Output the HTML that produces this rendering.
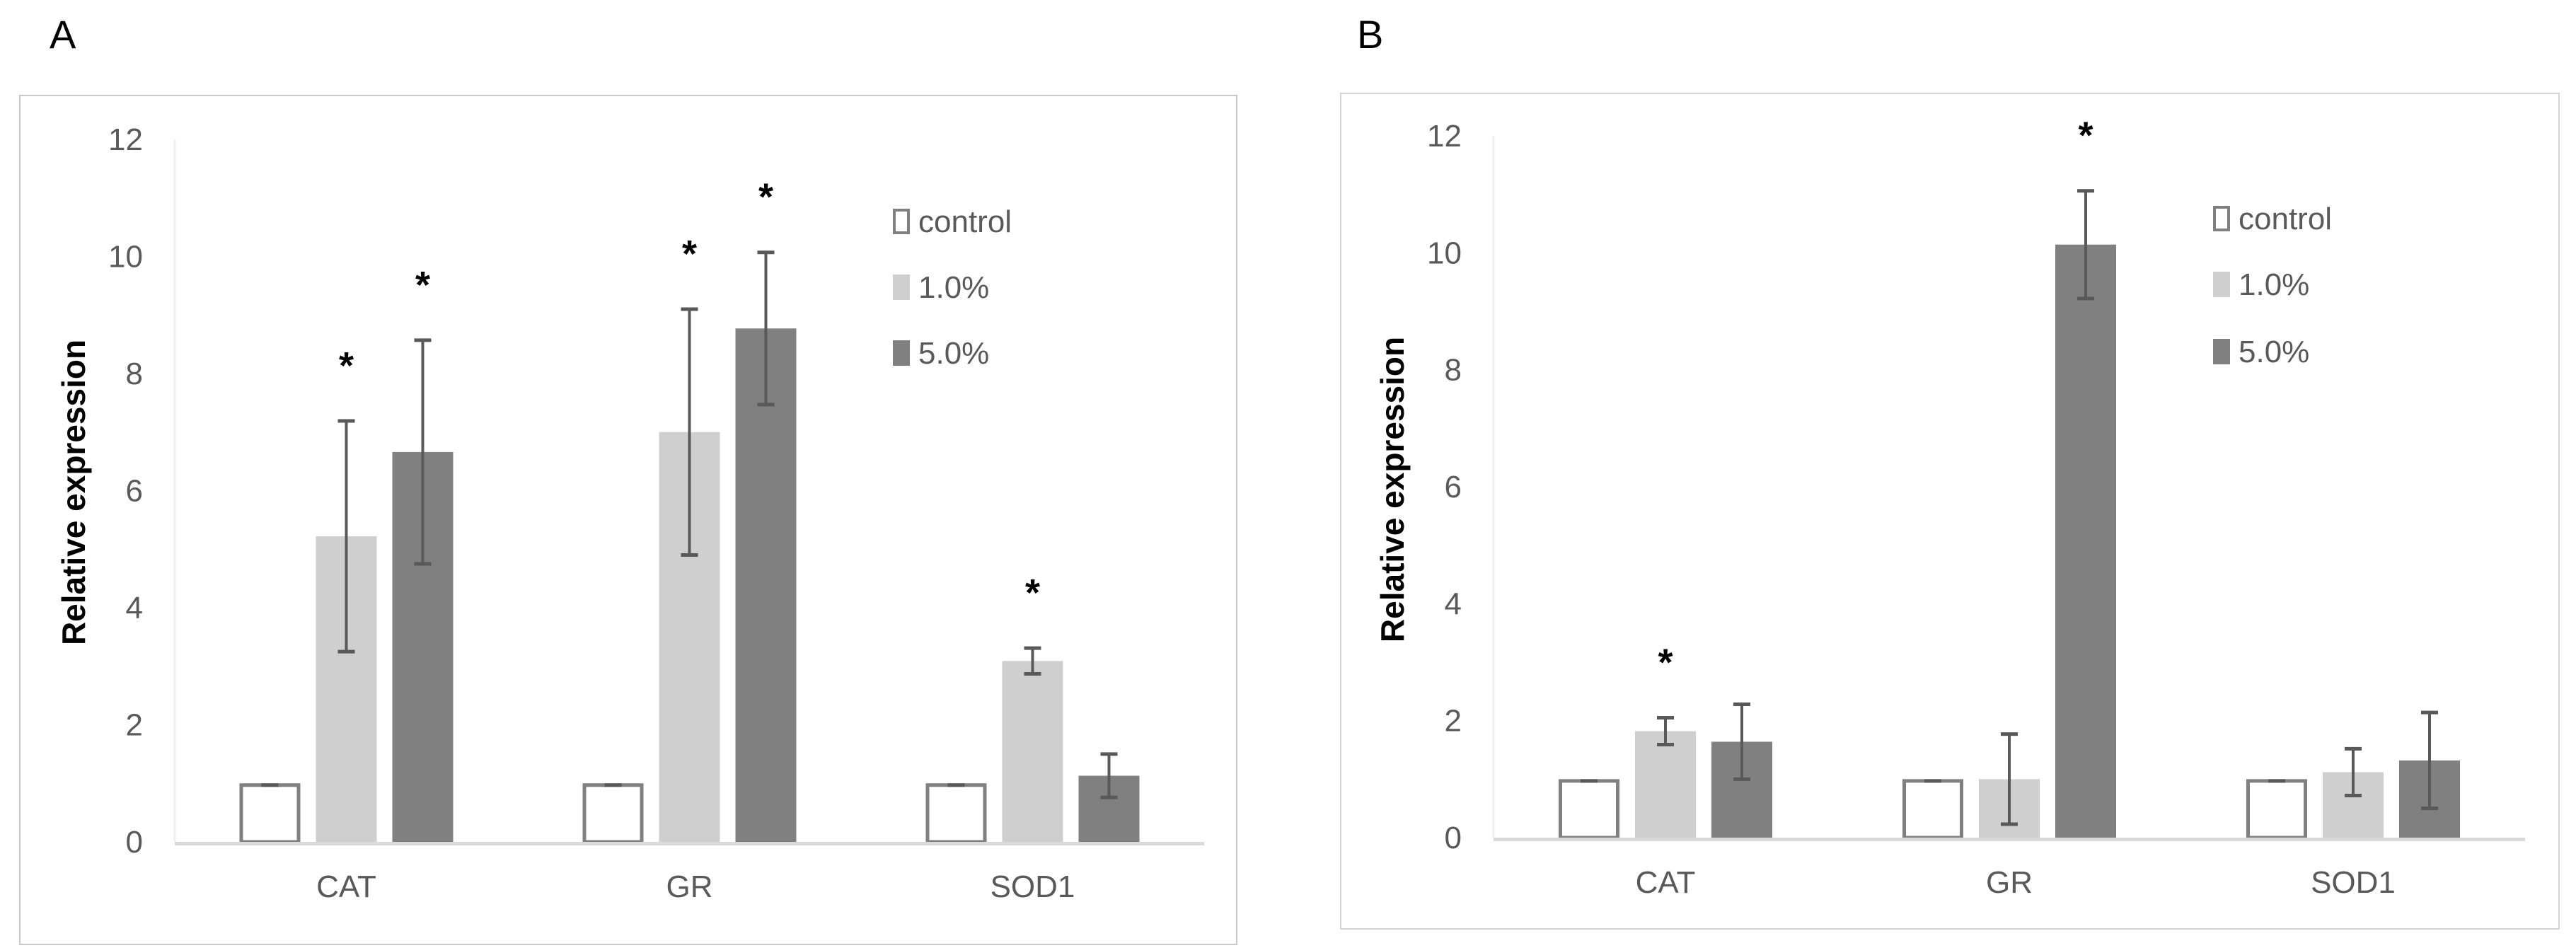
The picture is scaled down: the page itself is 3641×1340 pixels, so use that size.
<!DOCTYPE html>
<html><head><meta charset="utf-8"><style>
html,body{margin:0;padding:0;background:#fff;}
svg{display:block;font-family:"Liberation Sans",sans-serif;}
</style></head><body>
<svg id="fig" width="3641" height="1340" viewBox="0 0 3641 1340" xmlns="http://www.w3.org/2000/svg">
<text x="70" y="68" font-size="56" fill="#000">A</text>
<text x="1918" y="68" font-size="56" fill="#000">B</text>
<rect x="28" y="135" width="1720" height="1200" fill="none" stroke="#c8c8c8" stroke-width="2"/>
<rect x="1895" y="132" width="1722" height="1181" fill="none" stroke="#d4d4d4" stroke-width="2"/>
<g id="pa"></g>
<g id="pb"></g>
</svg>
<script>
const categories = ["CAT", "GR", "SOD1"];
const seriesNames = ["control", "1.0%", "5.0%"];
const yTicks = [0, 2, 4, 6, 8, 10, 12];
// Panel A
const aControl = [1, 1, 1];
const aLow = [5.22, 7.0, 3.09];
const aHigh = [6.66, 8.77, 1.13];
const aLowErr = [1.97, 2.1, 0.22];
const aHighErr = [1.91, 1.3, 0.37];
const aStarLow = [true, true, true];
const aStarHigh = [true, true, false];
// Panel B
const bControl = [1, 1, 1];
const bLow = [1.82, 1.0, 1.12];
const bHigh = [1.64, 10.14, 1.32];
const bLowErr = [0.23, 0.77, 0.4];
const bHighErr = [0.64, 0.92, 0.82];
const bStarLow = [true, false, false];
const bStarHigh = [false, true, false];

const NS = "http://www.w3.org/2000/svg";
function mk(parent, tag, attrs, text) {
  const e = document.createElementNS(NS, tag);
  for (const k in attrs) e.setAttribute(k, attrs[k]);
  if (text !== undefined) e.textContent = text;
  parent.appendChild(e);
  return e;
}

function drawPanel(g, cfg, ctrl, low, high, lowErr, highErr, starLow, starHigh) {
  const y = v => cfg.y0 - (cfg.y0 - cfg.y12) * v / 12;
  const catW = (cfg.xR - cfg.xL) / categories.length;
  const cx = i => cfg.xL + catW * (i + 0.5);
  // y axis faint line
  const ya = mk(g, "line", {x1: cfg.xL, x2: cfg.xL, y1: y(12), y2: y(0), stroke: "#efefef", "stroke-width": 3});
  
  
  yTicks.forEach(t => {
    const tl = mk(g, "text", {x: cfg.xL - 45, y: y(t) + 15, "font-size": 44, fill: "#595959", "text-anchor": "end"}, String(t));
    
    
  });
  const series = [ctrl, low, high];
  const errs = [null, lowErr, highErr];
  const stars = [null, starLow, starHigh];
  const fills = ["#ffffff", "#d0cfcf", "#808080"];
  categories.forEach((c, i) => {
    series.forEach((vals, s) => {
      const bx = cx(i) + (s - 1) * cfg.step - cfg.bw / 2;
      let r;
      if (s === 0) {
        r = mk(g, "rect", {x: bx + 2.5, y: y(vals[i]) + 2.5, width: cfg.bw - 5, height: y(0) - y(vals[i]) - 2.5, fill: "#fff", stroke: "#808080", "stroke-width": 5});
        const cap = mk(g, "line", {x1: cx(i) + (s - 1) * cfg.step - 12, x2: cx(i) + (s - 1) * cfg.step + 12, y1: y(vals[i]) + 2.5, y2: y(vals[i]) + 2.5, stroke: "#595959", "stroke-width": 5});
        
        
      } else {
        r = mk(g, "rect", {x: bx, y: y(vals[i]), width: cfg.bw, height: y(0) - y(vals[i]), fill: fills[s]});
      }
      
      
      if (errs[s]) {
        const ex = cx(i) + (s - 1) * cfg.step;
        const top = y(vals[i] + errs[s][i]), bot = y(vals[i] - errs[s][i]);
        const eg = mk(g, "g", {stroke: "#595959"});
        
        
        mk(eg, "line", {x1: ex, x2: ex, y1: top, y2: bot, "stroke-width": 4});
        mk(eg, "line", {x1: ex - 12, x2: ex + 12, y1: top, y2: top, "stroke-width": 5});
        mk(eg, "line", {x1: ex - 12, x2: ex + 12, y1: bot, y2: bot, "stroke-width": 5});
        if (stars[s][i]) {
          const st = mk(g, "text", {x: ex, y: top - 60, "font-size": 54, "font-weight": "bold", "text-anchor": "middle", fill: "#000"}, "*");
          
          
        }
      }
    });
    const cl = mk(g, "text", {x: cx(i), y: cfg.catY, "font-size": 44, fill: "#595959", "text-anchor": "middle"}, c);
    
    
  });
  const xa = mk(g, "line", {x1: cfg.xL, x2: cfg.xR, y1: y(0) + 2.5, y2: y(0) + 2.5, stroke: "#d9d9d9", "stroke-width": 5});
  
  
  const tt = mk(g, "text", {x: cfg.titleX, y: cfg.titleY, "font-size": 46, "font-weight": "bold", fill: "#000", "text-anchor": "middle", transform: `rotate(-90 ${cfg.titleX} ${cfg.titleY})`}, "Relative expression");
  
  
  // legend
  seriesNames.forEach((n, s) => {
    const ly = cfg.legY[s];
    const lg = mk(g, "g", {});
    
    
    if (s === 0) mk(lg, "rect", {x: cfg.legX + 2, y: ly - 15, width: 20, height: 32, fill: "#fff", stroke: "#808080", "stroke-width": 4});
    else mk(lg, "rect", {x: cfg.legX, y: ly - 17, width: 24, height: 36, fill: fills[s]});
    mk(lg, "text", {x: cfg.legX + 36, y: ly + 16, "font-size": 44, fill: "#595959"}, n);
  });
}

drawPanel(document.getElementById("pa"),
  {xL: 247, xR: 1702, y0: 1190, y12: 197, bw: 86, step: 108, catY: 1268, titleX: 120, titleY: 696, legX: 1262, legY: [312, 405, 498]},
  aControl, aLow, aHigh, aLowErr, aHighErr, aStarLow, aStarHigh);
drawPanel(document.getElementById("pb"),
  {xL: 2111, xR: 3569, y0: 1184, y12: 192, bw: 86, step: 108, catY: 1262, titleX: 1984, titleY: 692, legX: 3128, legY: [308, 401, 496]},
  bControl, bLow, bHigh, bLowErr, bHighErr, bStarLow, bStarHigh);
</script>
</body></html>
